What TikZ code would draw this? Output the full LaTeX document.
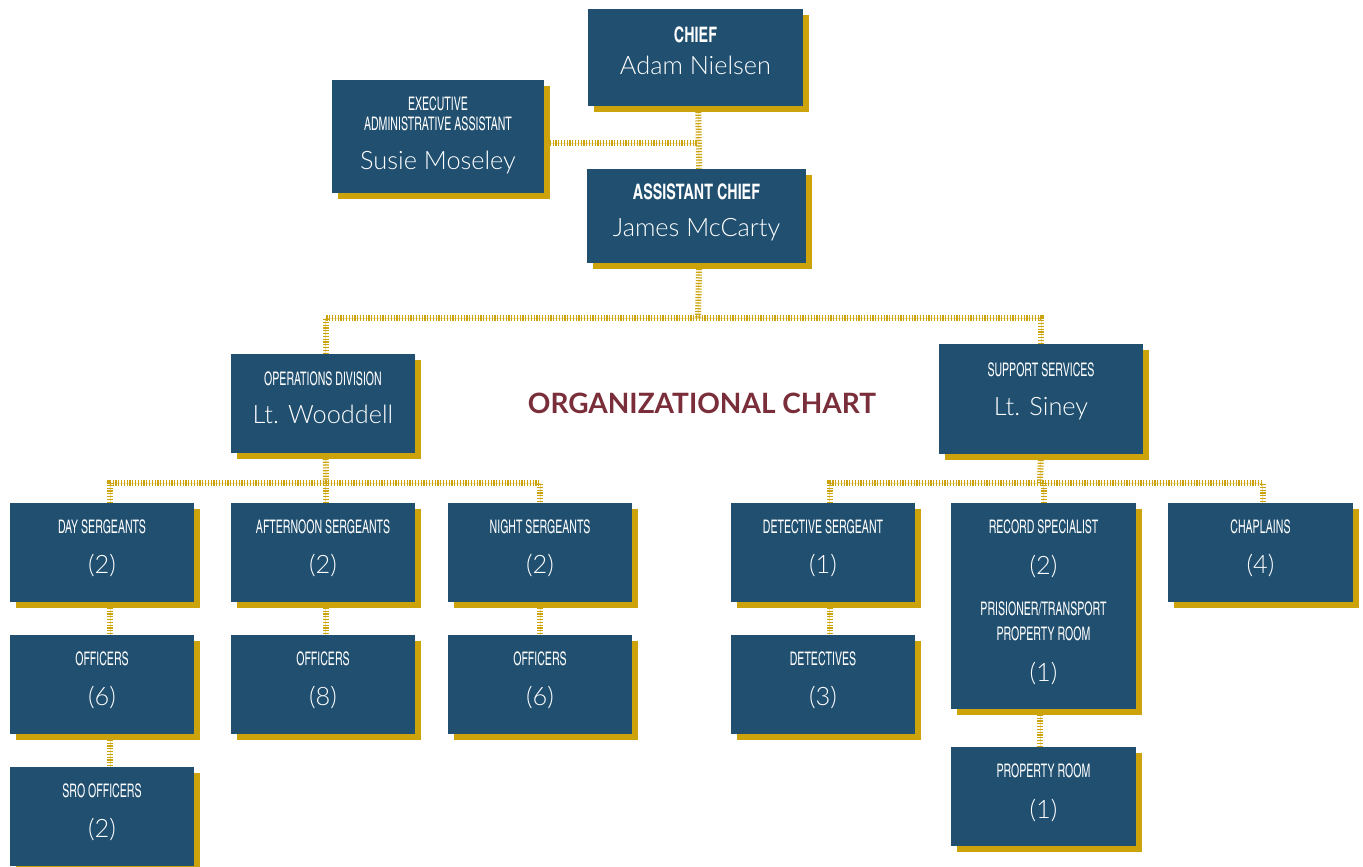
\documentclass[tikz,border=0pt]{standalone}
\usepackage{fontspec}
\usepackage{graphicx}
\setmainfont{Lato}[UprightFont=* Light, BoldFont=* Bold]
\newfontfamily\headfont{texgyreheroscn}[Extension=.otf, UprightFont=*-regular, BoldFont=*-bold]
\usetikzlibrary{calc,shadows}
\definecolor{navy}{RGB}{32,79,112}
\definecolor{gold}{RGB}{204,163,10}
\definecolor{maroon}{RGB}{122,46,58}
\pgfdeclarelayer{bg}
\pgfsetlayers{bg,main}
\newcommand{\hd}[1]{{\headfont\fontsize{14}{15}\selectfont\scalebox{0.69}[1]{#1}}}
\newcommand{\hdb}[1]{{\headfont\bfseries\fontsize{16}{17}\selectfont\scalebox{0.82}[1]{#1}}}

\begin{document}
\begin{tikzpicture}[x=0.75pt, y=-0.75pt,
	box/.style={fill=navy, text=white, align=center, inner sep=0pt,
		font=\fontsize{19}{30.5}\selectfont, text depth=9pt,
		drop shadow={shadow xshift=4.5pt, shadow yshift=-4.5pt, fill=gold, opacity=1}},
	sz/.style 2 args={minimum width=#1*0.75pt, minimum height=#2*0.75pt},
	link/.style={draw=gold, line width=4.5pt, dash pattern=on 0.9pt off 1.2pt,
		preaction={draw=gold!35, solid}}]
		%%%%% TOP %%%%%
		\useasboundingbox (0,0) rectangle (1363,867);
		
		\node[box, sz={215}{97}, text depth=10.5pt] (chief) at (695.5,57.5) {\hdb{CHIEF}\\[-6pt]Adam Nielsen};
		\node[box, sz={212}{113}, text depth=5pt] (exec) at (438,136.5) {\hd{EXECUTIVE}\\[-15.5pt]\hd{ADMINISTRATIVE ASSISTANT}\\[-1.5pt]Susie Moseley};
		\node[box, sz={219}{94}] (asst) at (696.5,216) {\hdb{ASSISTANT CHIEF}\\[-2.5pt]James McCarty};
		
		\node[box, sz={184}{99}] (ops) at (323,403.5) {\hd{OPERATIONS DIVISION}\\[-1.5pt]Lt. Wooddell};
		\node[box, sz={204}{110}, text depth=15pt] (supp) at (1041,399) {\hd{SUPPORT SERVICES}\\[-1.5pt]Lt. Siney};
		
		\node[text=maroon, font=\bfseries\fontsize{21}{24}\selectfont] (title) at (702,403) {ORGANIZATIONAL CHART};
		
		%%%%% OPERATIONS %%%%%
		\node[box, sz={184}{99}] (day) at (102,552.5) {\hd{DAY SERGEANTS}\\(2)};
		\node[box, sz={184}{99}] (aft) at (323,552.5) {\hd{AFTERNOON SERGEANTS}\\(2)};
		\node[box, sz={184}{99}] (night) at (540,552.5) {\hd{NIGHT SERGEANTS}\\(2)};
		\node[box, sz={184}{99}] (offday) at (102,684.5) {\hd{OFFICERS}\\(6)};
		\node[box, sz={184}{99}] (offaft) at (323,684.5) {\hd{OFFICERS}\\(8)};
		\node[box, sz={184}{99}] (offnight) at (540,684.5) {\hd{OFFICERS}\\(6)};
		\node[box, sz={184}{99}] (sro) at (102,816.5) {\hd{SRO OFFICERS}\\(2)};
		
		%%%%% SUPPORT %%%%%
		\node[box, sz={184}{99}] (detsgt) at (823,552.5) {\hd{DETECTIVE SERGEANT}\\(1)};
		\node[box, sz={185}{206}, text depth=8pt] (rec) at (1043.5,606) {\hd{RECORD SPECIALIST}\\(2)\\\hd{PRISIONER/TRANSPORT}\\[-11.5pt]\hd{PROPERTY ROOM}\\(1)};
		\node[box, sz={185}{99}] (chap) at (1260.5,552.5) {\hd{CHAPLAINS}\\(4)};
		\node[box, sz={184}{99}] (det) at (823,684.5) {\hd{DETECTIVES}\\(3)};
		\node[box, sz={185}{99}, text depth=8pt] (prop) at (1043.5,796.5) {\hd{PROPERTY ROOM}\\(1)};
		
		\coordinate (execjoin) at (698,143);
		\coordinate (mainbus) at (698,318);
		\coordinate (opsbus) at (326,483);
		\coordinate (suppbus) at (1040,483);
		
		%%%%% LINKS %%%%%
		\begin{pgfonlayer}{bg}
			\fill[white] (0,0) rectangle (1363,867);
			\draw[link] ([xshift=2pt]chief.south) -- ([xshift=2pt]asst.north);
			\draw[link] ($(exec.east)+(0,6.5)$) -- (execjoin);
			\draw[link] ([xshift=2pt]asst.south) -- (mainbus);
			\draw[link] ([xshift=2pt]ops.north) -- ([xshift=2pt]ops.north |- mainbus) -- (supp.north |- mainbus) -- (supp.north);
			
			\draw[link] ([xshift=2pt]ops.south) -- (opsbus);
			\draw[link] ([xshift=6pt]day.north) -- ([xshift=6pt]day.north |- opsbus) -- (night.north |- opsbus) -- (night.north);
			\draw[link] ([xshift=2pt]aft.north) -- ([xshift=2pt]aft.north |- opsbus);
			
			\draw[link] (supp.south) -- (suppbus);
			\draw[link] ([xshift=5pt]detsgt.north) -- ([xshift=5pt]detsgt.north |- suppbus) -- ([xshift=1.5pt]chap.north |- suppbus) -- ([xshift=1.5pt]chap.north);
			\draw[link] (rec.north) -- (rec.north |- suppbus);
			
			\draw[link] ([xshift=6pt]day.south) -- ([xshift=6pt]offday.north);
			\draw[link] ([xshift=6pt]offday.south) -- ([xshift=6pt]sro.north);
			\draw[link] ([xshift=2pt]aft.south) -- ([xshift=2pt]offaft.north);
			\draw[link] (night.south) -- (offnight.north);
			\draw[link] ([xshift=5pt]detsgt.south) -- ([xshift=5pt]det.north);
			\draw[link] ([xshift=-2.5pt]rec.south) -- ([xshift=-2.5pt]prop.north);
		\end{pgfonlayer}
	\end{tikzpicture}
\end{document}
